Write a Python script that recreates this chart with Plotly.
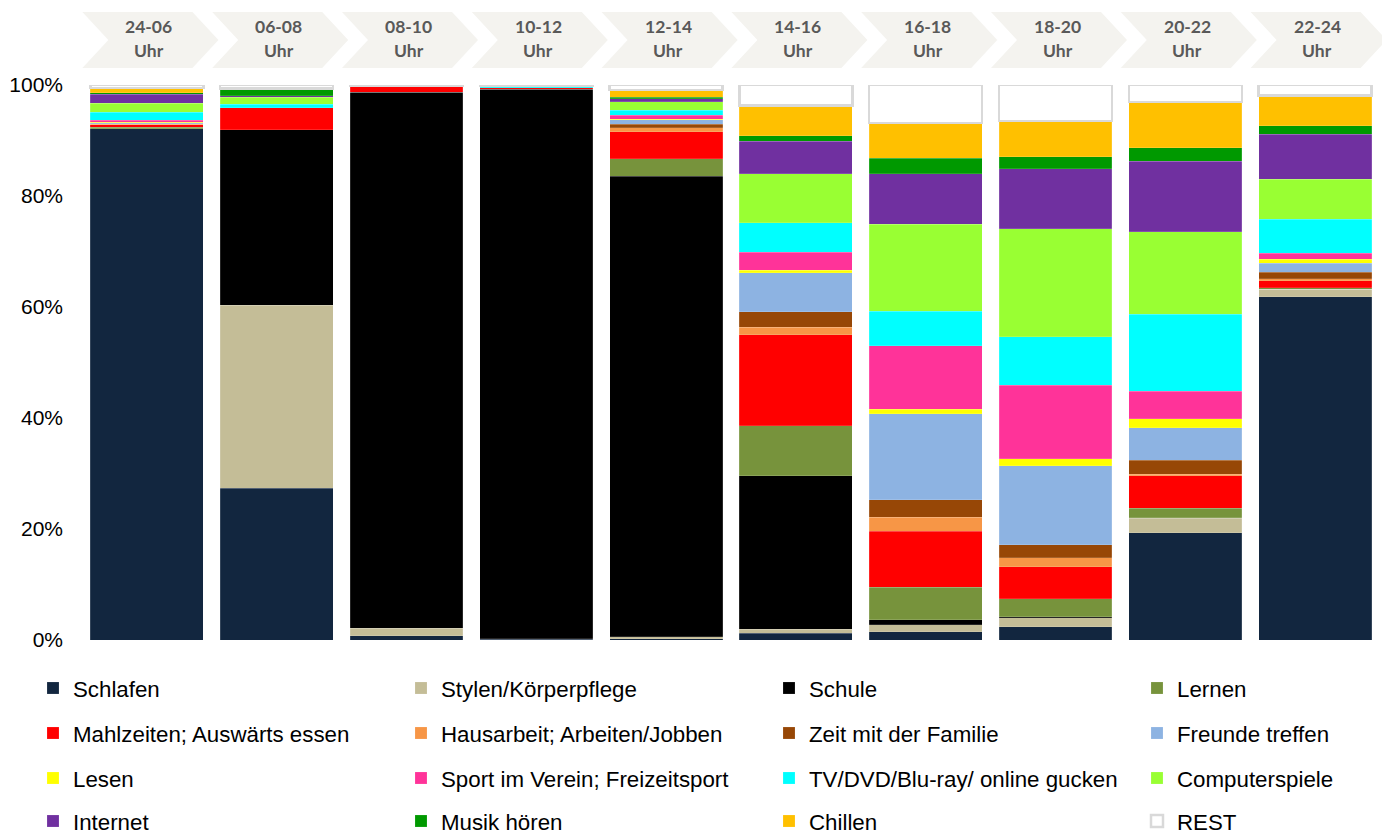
import plotly.graph_objects as go

categories = ["24-06", "06-08", "08-10", "10-12", "12-14", "14-16", "16-18", "18-20", "20-22", "22-24"]

schlafen   = [92.4, 27.4, 0.8, 0.1, 0.25, 1.2, 1.5, 2.4, 19.3, 62.0]
stylen     = [0.0, 33.0, 1.3, 0.1, 0.35, 0.7, 1.2, 1.6, 2.6, 1.3]
schule     = [0.0, 31.7, 96.7, 99.0, 83.1, 27.8, 0.9, 0.2, 0.1, 0.0]
lernen     = [0.3, 0.0, 0.0, 0.0, 3.2, 9.0, 5.9, 3.2, 1.7, 0.3]
mahlzeiten = [0.4, 4.0, 1.0, 0.3, 4.9, 16.5, 10.1, 5.8, 5.8, 1.3]
hausarbeit = [0.1, 0.0, 0.0, 0.0, 0.7, 1.3, 2.5, 1.6, 0.3, 0.3]
familie    = [0.1, 0.0, 0.0, 0.0, 0.6, 2.8, 3.1, 2.4, 2.5, 1.2]
freunde    = [0.2, 0.0, 0.0, 0.0, 0.8, 7.1, 15.5, 14.2, 5.9, 1.6]
lesen      = [0.1, 0.0, 0.0, 0.0, 0.1, 0.4, 0.8, 1.3, 1.6, 0.7]
sport      = [0.3, 0.0, 0.0, 0.0, 0.7, 3.3, 11.4, 13.2, 4.9, 1.1]
tv         = [1.5, 0.6, 0.0, 0.2, 0.9, 5.3, 6.2, 8.7, 13.9, 6.2]
computer   = [1.6, 1.3, 0.0, 0.0, 1.6, 8.9, 15.7, 19.5, 14.8, 7.2]
internet   = [1.6, 0.3, 0.0, 0.0, 0.5, 5.8, 9.0, 10.8, 12.7, 8.1]
musik      = [0.3, 1.2, 0.2, 0.0, 0.3, 1.0, 2.8, 2.2, 2.4, 1.5]
chillen    = [0.9, 0.1, 0.0, 0.2, 1.3, 5.5, 6.4, 6.4, 8.2, 5.5]
rest       = [0.5, 0.6, 0.1, 0.1, 0.9, 3.7, 6.8, 6.5, 3.1, 1.9]

series_names = ["Schlafen", "Stylen/Körperpflege", "Schule", "Lernen",
                "Mahlzeiten; Auswärts essen", "Hausarbeit; Arbeiten/Jobben", "Zeit mit der Familie", "Freunde treffen",
                "Lesen", "Sport im Verein; Freizeitsport", "TV/DVD/Blu-ray/ online gucken", "Computerspiele",
                "Internet", "Musik hören", "Chillen", "REST"]
series_values = [schlafen, stylen, schule, lernen, mahlzeiten, hausarbeit, familie, freunde,
                 lesen, sport, tv, computer, internet, musik, chillen, rest]
series_colors = ["#12263f", "#c4bd97", "#000000", "#77933c",
                 "#ff0000", "#f79646", "#974706", "#8db3e2",
                 "#ffff00", "#ff3399", "#00ffff", "#99ff33",
                 "#7030a0", "#009900", "#ffc000", "#ffffff"]

y_tickvals = [0, 20, 40, 60, 80, 100]
y_ticktext = ["0%", "20%", "40%", "60%", "80%", "100%"]

W, H = 1382, 832
ML, MR, MT, MB = 82, 2, 85, 192
PW = W - ML - MR
PH = H - MT - MB

fig = go.Figure()
legend_ids = ["legend"] + [f"legend{k}" for k in range(2, len(series_names) + 1)]
for i, (name, vals, col) in enumerate(zip(series_names, series_values, series_colors)):
    is_rest = name == "REST"
    fig.add_trace(go.Bar(
        x=categories, y=vals, name=name,
        marker=dict(color=col,
                    line=dict(color="#d9d9d9" if is_rest else "rgba(255,255,255,0.25)",
                              width=2.5 if is_rest else 0.6)),
        legend=legend_ids[i],
        hoverinfo="name+y",
    ))

def px2paper(px, py):
    return (px - ML) / PW, (MT + PH - py) / PH

shapes = []
annotations = []
catw = PW / len(categories)
for i, cat in enumerate(categories):
    c = ML + catw * (i + 0.5)
    pts = [(c - 64.5, 12), (c + 45.5, 12), (c + 71.5, 40), (c + 45.5, 68), (c - 64.5, 68), (c - 38.5, 40)]
    pp = [px2paper(x, y) for x, y in pts]
    path = "M " + " L ".join(f"{x:.5f},{y:.5f}" for x, y in pp) + " Z"
    shapes.append(dict(type="path", path=path, xref="paper", yref="paper",
                       fillcolor="#f4f3ef", line=dict(width=0), layer="below"))
    xa, ya1 = px2paper(c + 2, 27)
    _, ya2 = px2paper(c + 2, 51)
    annotations.append(dict(x=xa, y=ya1, xref="paper", yref="paper", text=f"<b>{cat}</b>",
                            showarrow=False, font=dict(family="Lato", size=17.5, color="#595959"),
                            xanchor="center", yanchor="middle"))
    annotations.append(dict(x=xa, y=ya2, xref="paper", yref="paper", text="<b>Uhr</b>",
                            showarrow=False, font=dict(family="Lato", size=17.5, color="#595959"),
                            xanchor="center", yanchor="middle"))

legend_rows_y = [688, 733, 778, 821]
legend_cols_x = [33, 401, 769, 1137]
layout_legends = {}
for i, lid in enumerate(legend_ids):
    r, cidx = divmod(i, 4)
    layout_legends[lid] = dict(
        orientation="h", xref="container", yref="container",
        x=legend_cols_x[cidx] / W, y=1 - legend_rows_y[r] / H,
        xanchor="left", yanchor="middle",
        font=dict(family="Liberation Sans, Arial", size=22.3, color="#000000"),
        bgcolor="rgba(0,0,0,0)", itemwidth=30, itemclick=False, itemdoubleclick=False,
    )

fig.update_layout(
    width=W, height=H,
    margin=dict(l=ML, r=MR, t=MT, b=MB, pad=0),
    barmode="stack", barnorm="percent", bargap=0.13,
    plot_bgcolor="white", paper_bgcolor="white",
    xaxis=dict(type="category", showticklabels=False, showgrid=False, zeroline=False,
               showline=False, ticks=""),
    yaxis=dict(range=[0, 100], tickmode="array", tickvals=y_tickvals, ticktext=y_ticktext,
               showgrid=False, zeroline=False, showline=False, ticks="",
               ticklabelstandoff=18,
               tickfont=dict(family="Liberation Sans, Arial", size=21, color="#000000")),
    shapes=shapes, annotations=annotations,
    showlegend=True,
    **layout_legends,
)

fig.write_html("out.html")
